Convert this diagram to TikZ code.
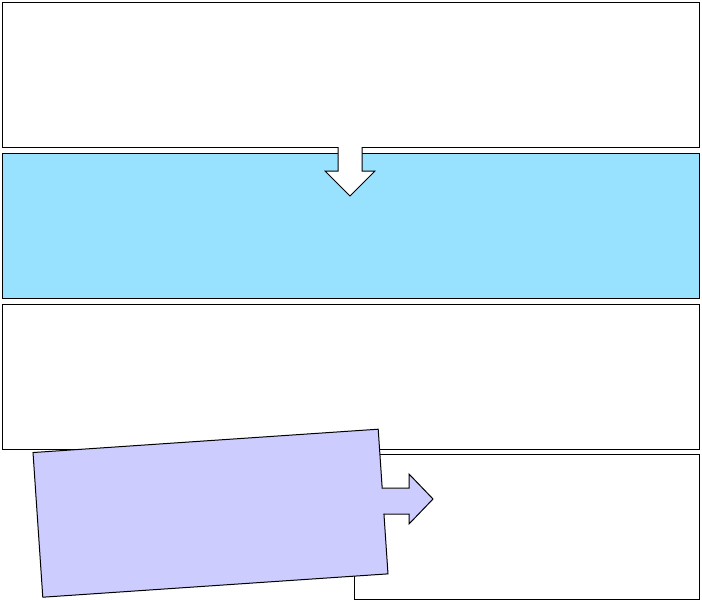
\documentclass[tikz,border=0pt]{standalone}
\usetikzlibrary{calc}
\definecolor{skyfill}{HTML}{99E2FF}
\definecolor{lavfill}{HTML}{CCCCFF}
\tikzset{
  panel/.style={draw=black, line width=1.3pt, rectangle, inner sep=0pt, anchor=north west},
  blockarrow/.style={fill=white},
  arrowedge/.style={draw=black, line width=1pt, line join=miter},
}
\begin{document}
\begin{tikzpicture}[x=1pt,y=-1pt]
\useasboundingbox (0,0) rectangle (702,600);
% panels
\node[panel, fill=white, minimum width=697pt, minimum height=145pt] (p1) at (1.5,1.5) {};
\node[panel, fill=skyfill, minimum width=697pt, minimum height=145pt] (p2) at (1.5,152.5) {};
\node[panel, fill=white, minimum width=697pt, minimum height=145pt] (p3) at (1.5,303.5) {};
\node[panel, fill=white, minimum width=345pt, minimum height=145pt] (p4) at (353.5,454) {};
% down arrow
\fill[blockarrow] (338,144) -- (338,171) -- (325,171) -- (350,196) -- (375,171) -- (362,171) -- (362,144) -- cycle;
\draw[arrowedge] (338,147) -- (338,171) -- (325,171) -- (350,196) -- (375,171) -- (362,171) -- (362,147);
% tilted callout box
\node[draw=black, line width=1pt, fill=lavfill, rectangle, inner sep=0pt,
      minimum width=346pt, minimum height=145pt, rotate=3.87] (tilt) at (210.5,513.2) {};
% its arrow, joined to the box
\fill[lavfill] (378,488.5) -- (409,488.5) -- (409,474) -- (433,499) -- (409,524) -- (409,513.5) -- (380,513.5) -- cycle;
\draw[arrowedge] (382.4,488) -- (409,488) -- (409,474) -- (433,499) -- (409,524) -- (409,514) -- (384.2,514);
\end{tikzpicture}
\end{document}
